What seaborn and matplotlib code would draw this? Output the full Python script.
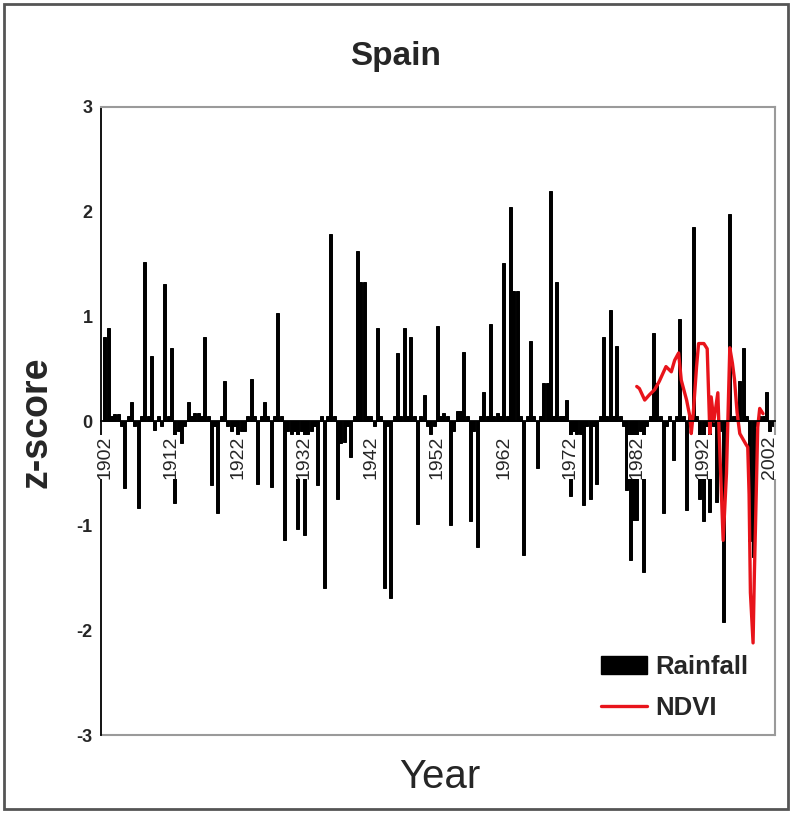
import matplotlib
matplotlib.use('Agg')
import matplotlib.pyplot as plt
import seaborn as sns
import pandas as pd
from matplotlib.patches import Patch, Rectangle
from matplotlib.lines import Line2D

# rainfall z-scores, half-year steps starting 1902.0
rain_start = 1902
rain = [
    # 1902-1911
    0.80, 0.89, 0.05, 0.07, 0.07, -0.05, -0.64, 0.05, 0.18, -0.05,
    -0.83, 0.05, 1.52, 0.05, 0.62, -0.09, 0.05, -0.05, 1.31, 0.05,
    # 1912-1921
    0.70, -0.78, -0.10, -0.21, -0.05, 0.18, 0.05, 0.08, 0.08, 0.05,
    0.80, 0.05, -0.61, -0.05, -0.88, 0.05, 0.38, -0.05, -0.10, -0.05,
    # 1922-1931
    -0.12, -0.10, -0.10, 0.05, 0.40, 0.05, -0.60, 0.05, 0.18, 0.05,
    -0.63, 0.05, 1.03, 0.05, -1.14, -0.10, -0.12, -0.10, -1.03, -0.10,
    # 1932-1941
    -1.09, -0.12, -0.10, -0.05, -0.61, 0.05, -1.60, 0.05, 1.79, 0.05,
    -0.75, -0.21, -0.20, -0.05, -0.34, 0.05, 1.62, 1.33, 1.33, 0.05,
    # 1942-1951
    0.05, -0.05, 0.89, 0.05, -1.60, -0.05, -1.69, 0.05, 0.65, 0.05,
    0.89, 0.05, 0.80, 0.05, -0.98, 0.05, 0.25, -0.05, -0.12, -0.05,
    # 1952-1961
    0.91, 0.05, 0.08, 0.05, -0.99, -0.10, 0.10, 0.10, 0.66, 0.05,
    -0.96, -0.10, -1.20, 0.05, 0.28, 0.05, 0.93, 0.05, 0.08, 0.05,
    # 1962-1971
    1.51, 0.05, 2.04, 1.24, 1.24, 0.05, -1.28, 0.05, 0.76, 0.05,
    -0.45, 0.05, 0.36, 0.36, 2.20, 0.05, 1.33, 0.05, 0.05, 0.20,
    # 1972-1981
    -0.72, -0.10, -0.12, -0.12, -0.80, -0.05, -0.75, -0.05, -0.60, 0.05,
    0.80, 0.05, 1.06, 0.05, 0.72, 0.05, -0.05, -0.66, -1.33, -0.95,
    # 1982-1991
    -0.95, -0.10, -1.44, -0.05, 0.05, 0.84, 0.36, 0.05, -0.88, -0.05,
    0.05, -0.37, 0.05, 0.97, 0.05, -0.85, 0.05, 1.85, 0.05, -0.75,
    # 1992-2001
    -0.96, -0.05, -0.87, -0.05, -0.77, -0.10, -1.92, -0.05, 1.98, 0.05,
    0.05, 0.38, 0.70, 0.05, -1.15, -1.30, -0.05, 0.05, 0.05, 0.28,
    # 2002
    -0.10, -0.05,
]
rain_years = [rain_start + i / 2 for i in range(len(rain))]

ndvi_years = [1982.0, 1982.4, 1983.2, 1983.9, 1984.7, 1985.4, 1986.4, 1987.2,
              1987.7, 1988.3, 1988.7, 1989.5, 1990.0, 1990.2, 1990.5, 1991.0,
              1991.3, 1992.1, 1992.6, 1993.0, 1993.2, 1993.6, 1994.2, 1994.4,
              1995.0, 1995.5, 1996.0, 1996.4, 1996.7, 1997.1, 1997.5, 1998.4,
              1998.7, 1998.9, 1999.1, 1999.5, 1999.7, 2000.0, 2000.2, 2000.5,
              2001.0]
ndvi = [0.33, 0.31, 0.20, 0.25, 0.30, 0.38, 0.52, 0.47,
        0.58, 0.65, 0.39, 0.20, 0.04, -0.12, 0.07, 0.52,
        0.74, 0.74, 0.69, -0.12, 0.23, 0.00, 0.27, -0.12,
        -1.14, -0.50, 0.70, 0.55, 0.40, 0.08, -0.12, -0.22,
        -0.25, -0.70, -1.64, -2.12, -1.45, -0.63, -0.06, 0.12,
        0.07]

label_years = [1902, 1912, 1922, 1932, 1942, 1952, 1962, 1972, 1982, 1992, 2002]

rain_df = pd.DataFrame({'year': rain_years, 'z': rain})
ndvi_df = pd.DataFrame({'year': ndvi_years, 'z': ndvi})

sns.set_style('white')
plt.rcParams['font.family'] = ['Liberation Sans', 'DejaVu Sans']

fig = plt.figure(figsize=(7.92, 8.13), dpi=100)
ax = fig.add_axes([101/792, 1 - 735/813, 674/792, 628/813])

sns.barplot(data=rain_df, x='year', y='z', native_scale=True, color='black',
            saturation=1, width=0.9, errorbar=None, ax=ax, zorder=2)
for p in ax.patches:
    p.set_edgecolor('black')
    p.set_linewidth(0.7)
sns.lineplot(data=ndvi_df, x='year', y='z', color='#e8141b', lw=2.4, ax=ax, zorder=4)

ax.set_xlim(1901.4, 2002.8)
ax.set_ylim(-3, 3)

# plot area border grey, value axis black, category axis at zero
for s in ['top', 'right']:
    ax.spines[s].set_color('#9a9a9a')
    ax.spines[s].set_linewidth(1.5)
ax.spines['left'].set_color('black')
ax.spines['left'].set_linewidth(1.3)
ax.spines['bottom'].set_position(('data', 0))
ax.spines['bottom'].set_color('black')
ax.spines['bottom'].set_linewidth(1.3)
ax.spines['bottom'].set_zorder(5)
ax.plot([0, 1], [0, 0], transform=ax.transAxes, color='#9a9a9a', lw=1.5,
        clip_on=False)

ax.set_yticks([-3, -2, -1, 0, 1, 2, 3])
ax.set_yticklabels(['-3', '-2', '-1', '0', '1', '2', '3'], fontsize=13,
                   fontweight='bold')
ax.tick_params(axis='y', direction='inout', length=10, width=1.2, pad=1)

ax.set_xticks(label_years)
ax.set_xticks(rain_years, minor=True)
ax.set_xticklabels([str(y) for y in label_years], rotation=90, fontsize=14,
                   va='top')
ax.tick_params(axis='x', which='both', direction='inout', length=7, width=1.0,
               pad=7)
for lbl in ax.get_xticklabels():
    lbl.set_bbox(dict(facecolor='white', edgecolor='none', pad=0.3))
ax.xaxis.set_zorder(5)

ax.set_xlabel('')
ax.set_ylabel('')

fig.text(0.5, 1 - 57/813, 'Spain', ha='center', va='center', fontsize=24,
         fontweight='bold')
fig.text(36/792, 1 - 422/813, 'z-score', ha='center', va='center',
         rotation=90, fontsize=27, fontweight='bold')
fig.text(440/792, 1 - 777/813, 'Year', ha='center', va='center', fontsize=29)

handles = [Patch(facecolor='black', edgecolor='black'),
           Line2D([0], [0], color='#e8141b', lw=2.4)]
leg = ax.legend(handles, ['Rainfall', 'NDVI'], loc='upper left',
                bbox_to_anchor=(578/792, 1 - 632/813),
                bbox_transform=fig.transFigure, frameon=False,
                prop={'size': 18.5, 'weight': 'bold'}, handlelength=1.8,
                handletextpad=0.3, labelspacing=0.65)

fig.patches.append(Rectangle((4/792, 4/813), 784/792, 805/813,
                             transform=fig.transFigure, fill=False,
                             edgecolor='#555555', lw=2))

fig.savefig('out.png', dpi=100)
